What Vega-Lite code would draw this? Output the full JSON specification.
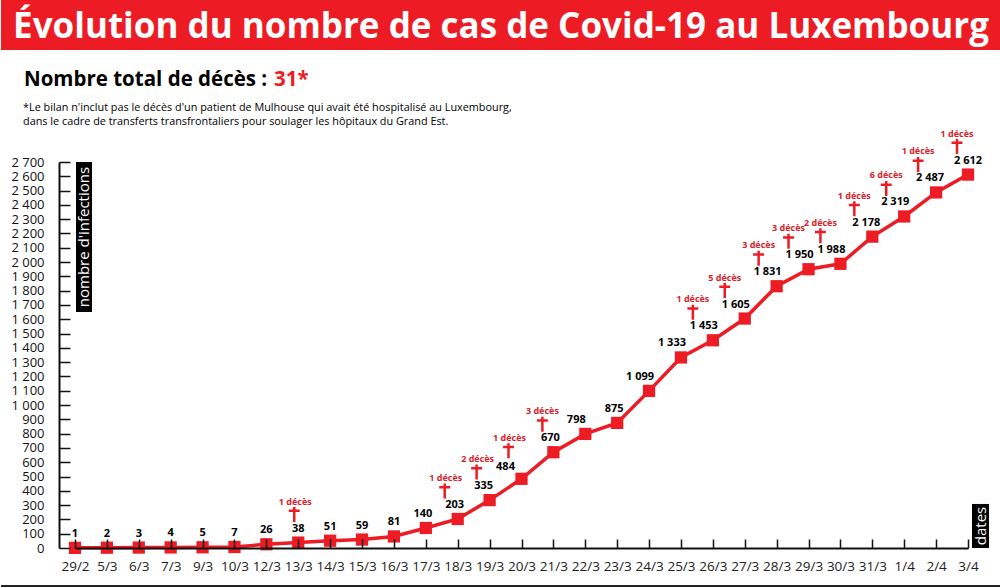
{
"$schema":"https://vega.github.io/schema/vega-lite/v6.json",
"padding":0,
"spacing":0,
"bounds":"flush",
"background":"white",
"config":{"view":{"stroke":null},"font":"Open Sans","concat":{"spacing":0}},
"datasets":{
"cases":[
{"date":"29/2","cases":1,"label":"1"},{"date":"5/3","cases":2,"label":"2"},{"date":"6/3","cases":3,"label":"3"},{"date":"7/3","cases":4,"label":"4"},{"date":"9/3","cases":5,"label":"5"},{"date":"10/3","cases":7,"label":"7"},{"date":"12/3","cases":26,"label":"26"},{"date":"13/3","cases":38,"label":"38"},{"date":"14/3","cases":51,"label":"51"},{"date":"15/3","cases":59,"label":"59"},{"date":"16/3","cases":81,"label":"81"},{"date":"17/3","cases":140,"label":"140"},{"date":"18/3","cases":203,"label":"203"},{"date":"19/3","cases":335,"label":"335"},{"date":"20/3","cases":484,"label":"484"},{"date":"21/3","cases":670,"label":"670"},{"date":"22/3","cases":798,"label":"798"},{"date":"23/3","cases":875,"label":"875"},{"date":"24/3","cases":1099,"label":"1 099"},{"date":"25/3","cases":1333,"label":"1 333"},{"date":"26/3","cases":1453,"label":"1 453"},{"date":"27/3","cases":1605,"label":"1 605"},{"date":"28/3","cases":1831,"label":"1 831"},{"date":"29/3","cases":1950,"label":"1 950"},{"date":"30/3","cases":1988,"label":"1 988"},{"date":"31/3","cases":2178,"label":"2 178"},{"date":"1/4","cases":2319,"label":"2 319"},{"date":"2/4","cases":2487,"label":"2 487"},{"date":"3/4","cases":2612,"label":"2 612"}],
"deaths":[
{"date":"13/3","cases":38,"deaths":"1 décès"},{"date":"18/3","cases":203,"deaths":"1 décès"},{"date":"19/3","cases":335,"deaths":"2 décès"},{"date":"20/3","cases":484,"deaths":"1 décès"},{"date":"21/3","cases":670,"deaths":"3 décès"},{"date":"26/3","cases":1453,"deaths":"1 décès"},{"date":"27/3","cases":1605,"deaths":"5 décès"},{"date":"28/3","cases":1831,"deaths":"3 décès"},{"date":"29/3","cases":1950,"deaths":"3 décès"},{"date":"30/3","cases":1988,"deaths":"2 décès"},{"date":"31/3","cases":2178,"deaths":"1 décès"},{"date":"1/4","cases":2319,"deaths":"6 décès"},{"date":"2/4","cases":2487,"deaths":"1 décès"},{"date":"3/4","cases":2612,"deaths":"1 décès"}],
"notes":[
{"t":"Nombre total de décès : ","a":3274},{"t":"31*","a":3274},
{"t":"*Le bilan n'inclut pas le décès d'un patient de Mulhouse qui avait été hospitalisé au Luxembourg,","a":3078},
{"t":"dans le cadre de transferts transfrontaliers pour soulager les hôpitaux du Grand Est.","a":2980},
{"t":"nombre d'infections","a":2175},{"t":"dates","a":154}]
},
"vconcat":[
{"width":1000,"height":50,"view":{"fill":"#ed1c24","stroke":null},
"data":{"values":[{"t":"Évolution du nombre de cas de Covid-19 au Luxembourg"}]},
"mark":{"type":"text","color":"white","fontSize":35,"fontWeight":"bold","align":"center","baseline":"middle","dy":2},
"encoding":{"text":{"field":"t"}}},
{"width":1000,"height":537,
"encoding":{
"x":{"field":"date","type":"nominal","sort":null,"title":null,
"scale":{"type":"point","padding":0,"domain":["29/2","5/3","6/3","7/3","9/3","10/3","12/3","13/3","14/3","15/3","16/3","17/3","18/3","19/3","20/3","21/3","22/3","23/3","24/3","25/3","26/3","27/3","28/3","29/3","30/3","31/3","1/4","2/4","3/4"],"range":[74,967]},
"axis":{"offset":-39,"labelAngle":0,"tickSize":-9,"ticks":true,"domain":true,"zindex":1,"tickOpacity":1,"domainOpacity":1,"tickColor":"#111111","tickWidth":1.5,"domainColor":"#111111","domainWidth":2,"labelFontSize":13.5,"labelColor":"#222","labelPadding":20,"grid":false}},
"y":{"field":"cases","type":"quantitative","title":null,
"scale":{"domain":[0,2700],"range":[498,112],"nice":false,"zero":false},
"axis":{"offset":-58,"values":[0,100,200,300,400,500,600,700,800,900,1000,1100,1200,1300,1400,1500,1600,1700,1800,1900,2000,2100,2200,2300,2400,2500,2600,2700],"labelExpr":"replace(format(datum.value,','),',',' ')","tickSize":-11,"ticks":true,"domain":true,"zindex":1,"tickOpacity":1,"domainOpacity":1,"tickColor":"#111111","tickWidth":1.5,"domainColor":"#111111","domainWidth":2,"labelFontSize":13,"labelColor":"#111","labelPadding":26,"grid":false}}
},
"layer":[
{"data":{"values":[{"a":2700,"b":1650}]},"mark":{"type":"bar","width":16,"xOffset":9,"color":"black"},"encoding":{"x":{"datum":"29/2","type":"nominal"},"y":{"field":"a","type":"quantitative"},"y2":{"field":"b"}}},
{"data":{"values":[{"a":308,"b":0}]},"mark":{"type":"bar","width":17,"xOffset":12.5,"color":"black"},"encoding":{"x":{"datum":"3/4","type":"nominal"},"y":{"field":"a","type":"quantitative"},"y2":{"field":"b"}}},
{"data":{"name":"notes"},"transform":[{"filter":"datum.t=='nombre d\\'infections'"}],"mark":{"type":"text","color":"white","fontSize":15,"angle":270,"align":"center","baseline":"middle","xOffset":9},"encoding":{"x":{"datum":"29/2","type":"nominal"},"y":{"field":"a","type":"quantitative"},"text":{"field":"t"}}},
{"data":{"name":"notes"},"transform":[{"filter":"datum.t=='dates'"}],"mark":{"type":"text","color":"white","fontSize":15,"angle":270,"align":"center","baseline":"middle","xOffset":12.5},"encoding":{"x":{"datum":"3/4","type":"nominal"},"y":{"field":"a","type":"quantitative"},"text":{"field":"t"}}},
{"data":{"name":"notes"},"transform":[{"filter":"datum.a==3274 && datum.t!='31*'"}],"mark":{"type":"text","color":"black","fontSize":20.5,"fontWeight":"bold","align":"left","baseline":"middle","xOffset":-51},"encoding":{"x":{"datum":"29/2","type":"nominal"},"y":{"field":"a","type":"quantitative"},"text":{"field":"t"}}},
{"data":{"name":"notes"},"transform":[{"filter":"datum.t=='31*'"}],"mark":{"type":"text","color":"#ed1c24","fontSize":20.5,"fontWeight":"bold","align":"left","baseline":"middle","xOffset":199},"encoding":{"x":{"datum":"29/2","type":"nominal"},"y":{"field":"a","type":"quantitative"},"text":{"field":"t"}}},
{"data":{"name":"notes"},"transform":[{"filter":"datum.a==3078 || datum.a==2980"}],"mark":{"type":"text","color":"black","fontSize":10.85,"align":"left","baseline":"middle","xOffset":-52},"encoding":{"x":{"datum":"29/2","type":"nominal"},"y":{"field":"a","type":"quantitative"},"text":{"field":"t"}}},
{"data":{"values":[{"a":-266}]},"mark":{"type":"rule","color":"#222","strokeWidth":2},"encoding":{"x":null,"y":{"field":"a","type":"quantitative"}}},
{"data":{"name":"cases"},"mark":{"type":"line","color":"#ed1c24","strokeWidth":3.5}},
{"data":{"name":"cases"},"mark":{"type":"point","shape":"square","filled":true,"color":"#ed1c24","size":150,"opacity":1}},
{"data":{"name":"cases"},"transform":[{"filter":{"field":"date","oneOf":["29/2","5/3","6/3","7/3","9/3","10/3","12/3","13/3","14/3","15/3","16/3","3/4"]}}],"mark":{"type":"text","fontSize":11,"fontWeight":"bold","color":"black","dy":-14},"encoding":{"text":{"field":"label"}}},
{"data":{"name":"cases"},"transform":[{"filter":{"field":"date","oneOf":["17/3","18/3","21/3","23/3"]}}],"mark":{"type":"text","fontSize":11,"fontWeight":"bold","color":"black","dx":-3,"dy":-14},"encoding":{"text":{"field":"label"}}},
{"data":{"name":"cases"},"transform":[{"filter":{"field":"date","oneOf":["19/3","2/4","31/3"]}}],"mark":{"type":"text","fontSize":11,"fontWeight":"bold","color":"black","dx":-6,"dy":-14},"encoding":{"text":{"field":"label"}}},
{"data":{"name":"cases"},"transform":[{"filter":{"field":"date","oneOf":["22/3","24/3","25/3","26/3","27/3","28/3","29/3","30/3","1/4"]}}],"mark":{"type":"text","fontSize":11,"fontWeight":"bold","color":"black","dx":-9,"dy":-14},"encoding":{"text":{"field":"label"}}},
{"data":{"name":"cases"},"transform":[{"filter":{"field":"date","oneOf":["20/3"]}}],"mark":{"type":"text","fontSize":11,"fontWeight":"bold","color":"black","dx":-16,"dy":-12},"encoding":{"text":{"field":"label"}}},
{"data":{"name":"deaths"},"transform":[{"filter":{"field":"date","oneOf":["13/3"]}}],"mark":{"type":"point","shape":"M0,-1 L0,1 M-0.73,-0.5 L0.73,-0.5","size":225,"stroke":"#ed1c24","strokeWidth":2.5,"filled":false,"opacity":1,"xOffset":-4,"yOffset":-28}},
{"data":{"name":"deaths"},"transform":[{"filter":{"field":"date","oneOf":["18/3","19/3","20/3"]}}],"mark":{"type":"point","shape":"M0,-1 L0,1 M-0.73,-0.5 L0.73,-0.5","size":225,"stroke":"#ed1c24","strokeWidth":2.5,"filled":false,"opacity":1,"xOffset":-13,"yOffset":-28}},
{"data":{"name":"deaths"},"transform":[{"filter":{"field":"date","oneOf":["21/3","3/4"]}}],"mark":{"type":"point","shape":"M0,-1 L0,1 M-0.73,-0.5 L0.73,-0.5","size":225,"stroke":"#ed1c24","strokeWidth":2.5,"filled":false,"opacity":1,"xOffset":-11,"yOffset":-28}},
{"data":{"name":"deaths"},"transform":[{"filter":{"field":"date","oneOf":["26/3","27/3","29/3","30/3"]}}],"mark":{"type":"point","shape":"M0,-1 L0,1 M-0.73,-0.5 L0.73,-0.5","size":225,"stroke":"#ed1c24","strokeWidth":2.5,"filled":false,"opacity":1,"xOffset":-20,"yOffset":-28}},
{"data":{"name":"deaths"},"transform":[{"filter":{"field":"date","oneOf":["28/3","31/3","1/4","2/4"]}}],"mark":{"type":"point","shape":"M0,-1 L0,1 M-0.73,-0.5 L0.73,-0.5","size":225,"stroke":"#ed1c24","strokeWidth":2.5,"filled":false,"opacity":1,"xOffset":-18,"yOffset":-28}},
{"data":{"name":"deaths"},"transform":[{"filter":{"field":"date","oneOf":["13/3"]}}],"mark":{"type":"text","fontSize":9,"fontWeight":"bold","color":"#d8232a","dx":-3,"dy":-41},"encoding":{"text":{"field":"deaths"}}},
{"data":{"name":"deaths"},"transform":[{"filter":{"field":"date","oneOf":["18/3","19/3","20/3"]}}],"mark":{"type":"text","fontSize":9,"fontWeight":"bold","color":"#d8232a","dx":-12,"dy":-41},"encoding":{"text":{"field":"deaths"}}},
{"data":{"name":"deaths"},"transform":[{"filter":{"field":"date","oneOf":["21/3","3/4"]}}],"mark":{"type":"text","fontSize":9,"fontWeight":"bold","color":"#d8232a","dx":-11,"dy":-41},"encoding":{"text":{"field":"deaths"}}},
{"data":{"name":"deaths"},"transform":[{"filter":{"field":"date","oneOf":["26/3","27/3","29/3","30/3"]}}],"mark":{"type":"text","fontSize":9,"fontWeight":"bold","color":"#d8232a","dx":-20,"dy":-41},"encoding":{"text":{"field":"deaths"}}},
{"data":{"name":"deaths"},"transform":[{"filter":{"field":"date","oneOf":["28/3","31/3","1/4","2/4"]}}],"mark":{"type":"text","fontSize":9,"fontWeight":"bold","color":"#d8232a","dx":-18,"dy":-41},"encoding":{"text":{"field":"deaths"}}}
]}
]
}
